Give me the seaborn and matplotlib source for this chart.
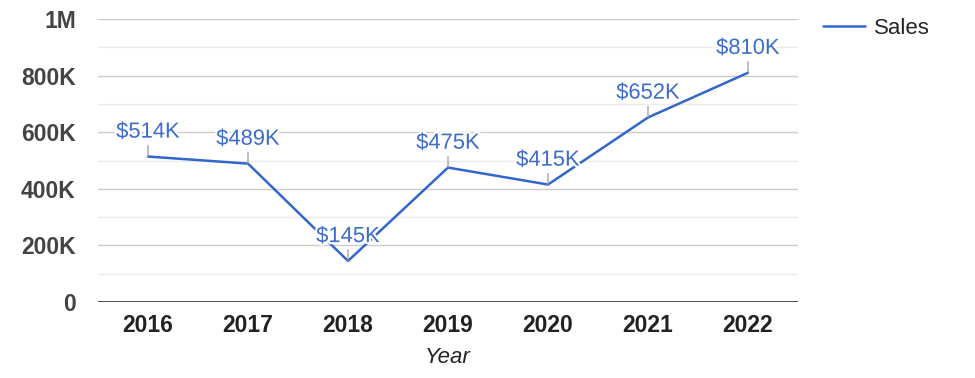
import matplotlib
matplotlib.use('Agg')
import matplotlib.pyplot as plt
import matplotlib.patheffects as pe
import pandas as pd
import seaborn as sns

# data
years = ['2016', '2017', '2018', '2019', '2020', '2021', '2022']
sales = [514000, 489000, 145000, 475000, 415000, 652000, 810000]
sales_labels = ['$514K', '$489K', '$145K', '$475K', '$415K', '$652K', '$810K']
y_ticks = [0, 200000, 400000, 600000, 800000, 1000000]
y_tick_labels = ['0', '200K', '400K', '600K', '800K', '1M']

df = pd.DataFrame({'Year': years, 'Sales': sales})

sns.set_style('white')
plt.rcParams['font.family'] = ['Liberation Sans', 'DejaVu Sans']

blue = '#3366cc'
fig = plt.figure(figsize=(9.75, 3.78), dpi=100)
ax = fig.add_axes([98 / 975, 76 / 378, 700 / 975, 283 / 378])

# grid: major every 200K, minor every 100K
for v in range(100000, 1000001, 100000):
    c = '#cccccc' if v % 200000 == 0 else '#ebebeb'
    ax.axhline(v, color=c, lw=1, zorder=0)
ax.axhline(0, color='#333333', lw=1.2, zorder=1)

sns.lineplot(data=df, x='Year', y='Sales', color=blue, lw=1.8, ax=ax,
             label='Sales', zorder=2)

for i, (v, lab) in enumerate(zip(sales, sales_labels)):
    ax.annotate('', xy=(i, v), xytext=(0, 8), textcoords='offset points',
                arrowprops=dict(arrowstyle='-', color='#999999', lw=0.9,
                                shrinkA=0, shrinkB=0), zorder=3)
    ax.annotate(lab, xy=(i, v), xytext=(0, 10), textcoords='offset points',
                ha='center', va='bottom', fontsize=15.8, color='#3d6ccc', zorder=4,
                path_effects=[pe.withStroke(linewidth=3, foreground='white')])

ax.set_xlim(-0.5, 6.5)
ax.set_ylim(0, 1000000)
ax.set_yticks(y_ticks)
ax.set_yticklabels(y_tick_labels, fontsize=16.5, fontweight='bold', color='#444444')
ax.set_xticks(range(len(years)))
ax.set_xticklabels(years, fontsize=16.5, fontweight='bold', color='#222222')
ax.tick_params(axis='both', length=0)
ax.tick_params(axis='y', pad=16)
ax.tick_params(axis='x', pad=9)
ax.set_ylabel('')
ax.set_xlabel('Year', fontsize=16, style='italic', color='#222222', labelpad=7)
for s in ax.spines.values():
    s.set_visible(False)

ax.legend(loc='upper left', bbox_to_anchor=(823 / 975, 1 - 18 / 378),
          bbox_transform=fig.transFigure, frameon=False, fontsize=16,
          handlelength=1.9, handletextpad=0.4, borderaxespad=0, borderpad=0)

fig.savefig('out.png', dpi=100)
